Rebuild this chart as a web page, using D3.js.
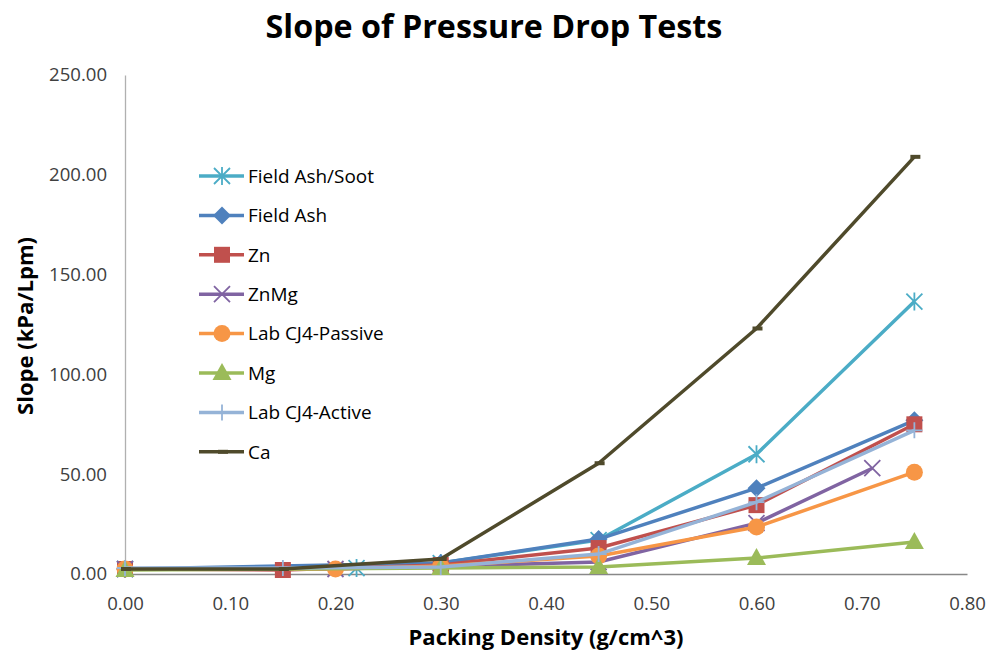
<!DOCTYPE html>
<html><head><meta charset="utf-8">
<script src="https://cdn.jsdelivr.net/npm/d3@7"></script>
<style>body{margin:0;background:#fff}svg{display:block}</style>
</head><body>
<svg id="c" width="989" height="654"></svg>
<script>
const seriesNames = ["Field Ash/Soot","Field Ash","Zn","ZnMg","Lab CJ4-Passive","Mg","Lab CJ4-Active","Ca"];
const seriesColors = ["#4BACC6","#4F81BD","#C0504D","#8064A2","#F79646","#9BBB59","#95B3D7","#4F4A2B"];
const seriesMarkers = ["asterisk","diamond","square","x","circle","triangle","plus","dash"];
const fieldAshSootX = [0, 0.22, 0.30, 0.45, 0.60, 0.75];
const fieldAshSootY = [2.5, 3, 5.5, 17, 60, 136.5];
const fieldAshX = [0, 0.30, 0.45, 0.60, 0.75];
const fieldAshY = [2.5, 5.5, 17.5, 43, 77];
const znX = [0, 0.15, 0.30, 0.45, 0.60, 0.75];
const znY = [2.5, 2, 4.5, 13, 34.5, 75];
const znMgX = [0, 0.20, 0.45, 0.60, 0.71];
const znMgY = [2.5, 2.5, 6, 25.5, 53];
const passiveX = [0, 0.20, 0.30, 0.45, 0.60, 0.75];
const passiveY = [2.5, 2.5, 4, 9, 23.5, 51];
const mgX = [0, 0.30, 0.45, 0.60, 0.75];
const mgY = [2, 3, 3.5, 8, 16];
const activeX = [0, 0.15, 0.30, 0.45, 0.60, 0.75];
const activeY = [3, 3, 3.5, 10, 36, 72];
const caX = [0, 0.15, 0.30, 0.45, 0.60, 0.75];
const caY = [2.5, 2.5, 7.5, 55.5, 123, 209];
const xTicks = [0,0.1,0.2,0.3,0.4,0.5,0.6,0.7,0.8];
const yTicks = [0,50,100,150,200,250];

const seriesX = [fieldAshSootX, fieldAshX, znX, znMgX, passiveX, mgX, activeX, caX];
const seriesY = [fieldAshSootY, fieldAshY, znY, znMgY, passiveY, mgY, activeY, caY];

const svg = d3.select("#c");
const F = "'Open Sans', sans-serif";
const L = 125, R = 967, T = 75, B = 574;
const x = d3.scaleLinear().domain([0,0.8]).range([L,R]);
const y = d3.scaleLinear().domain([0,250]).range([B,T]);

// font-size fitting helper: size such that the given text spans the target width
function fitSize(text, weight, target){
  const t = svg.append("text").attr("font-family",F).attr("font-weight",weight).attr("font-size",100).text(text);
  const w = t.node().getComputedTextLength();
  t.remove();
  return 100*target/w;
}
const tickSize = fitSize("250.00","normal",58);
const legSize = fitSize("Field Ash/Soot","normal",126);
const titleSize = fitSize("Slope of Pressure Drop Tests","bold",457);
const xtSize = fitSize("Packing Density (g/cm^3)","bold",275);
const ytSize = fitSize("Slope (kPa/Lpm)","bold",178);

// axes
const xa = svg.append("g").attr("transform",`translate(0,${B})`)
  .call(d3.axisBottom(x).tickValues(xTicks).tickFormat(d3.format(".2f")).tickSize(0).tickPadding(23));
const ya = svg.append("g").attr("transform",`translate(${L},0)`)
  .call(d3.axisLeft(y).tickValues(yTicks).tickFormat(d3.format(".2f")).tickSize(0).tickPadding(18));
[xa,ya].forEach(a=>{
  a.select(".domain").attr("stroke","#b0b0b0").attr("stroke-width",1.3);
  a.selectAll("text").attr("font-family",F).attr("font-size",tickSize).attr("fill","#404040");
});
xa.select(".domain").attr("stroke","#888");

function marker(g, type, cx, cy, color){
  const s = 8;
  if(type==="asterisk"){
    g.append("path").attr("d",`M${cx-s},${cy-s}L${cx+s},${cy+s}M${cx-s},${cy+s}L${cx+s},${cy-s}M${cx},${cy-s-1}L${cx},${cy+s+1}`)
      .attr("stroke",color).attr("stroke-width",1.8).attr("fill","none");
  } else if(type==="x"){
    g.append("path").attr("d",`M${cx-s},${cy-s}L${cx+s},${cy+s}M${cx-s},${cy+s}L${cx+s},${cy-s}`)
      .attr("stroke",color).attr("stroke-width",1.8).attr("fill","none");
  } else if(type==="plus"){
    g.append("path").attr("d",`M${cx-s},${cy}L${cx+s},${cy}M${cx},${cy-s}L${cx},${cy+s}`)
      .attr("stroke",color).attr("stroke-width",1.8).attr("fill","none");
  } else if(type==="dash"){
    g.append("path").attr("d",`M${cx-4},${cy}L${cx+6},${cy}`)
      .attr("stroke",color).attr("stroke-width",4).attr("fill","none");
  } else if(type==="square"){
    g.append("rect").attr("x",cx-8).attr("y",cy-8).attr("width",16).attr("height",16).attr("fill",color);
  } else if(type==="circle"){
    g.append("circle").attr("cx",cx).attr("cy",cy).attr("r",8.5).attr("fill",color);
  } else if(type==="diamond"){
    g.append("path").attr("d",`M${cx},${cy-9}L${cx+9},${cy}L${cx},${cy+9}L${cx-9},${cy}Z`).attr("fill",color);
  } else if(type==="triangle"){
    g.append("path").attr("d",`M${cx},${cy-10}L${cx+9.5},${cy+7}L${cx-9.5},${cy+7}Z`).attr("fill",color);
  }
}

const line = d3.line().x(d=>x(d[0])).y(d=>y(d[1]));
seriesNames.forEach((n,i)=>{
  const pts = seriesX[i].map((v,j)=>[v, seriesY[i][j]]);
  const g = svg.append("g");
  g.append("path").attr("d",line(pts)).attr("fill","none").attr("stroke",seriesColors[i])
    .attr("stroke-width",3.5).attr("stroke-linejoin","round");
  pts.forEach(p=>marker(g, seriesMarkers[i], x(p[0]), y(p[1]), seriesColors[i]));
});

// legend
const lg = svg.append("g");
seriesNames.forEach((n,i)=>{
  const cy = 176 + i*39.4;
  lg.append("line").attr("x1",199).attr("x2",244).attr("y1",cy).attr("y2",cy)
    .attr("stroke",seriesColors[i]).attr("stroke-width",3.5);
  marker(lg, seriesMarkers[i], 222, cy, seriesColors[i]);
  lg.append("text").attr("x",248).attr("y",cy).attr("dy","0.36em").attr("font-family",F)
    .attr("font-size",legSize).attr("fill","#000").text(n);
});

// titles
svg.append("text").attr("x",494).attr("y",38).attr("text-anchor","middle").attr("font-family",F)
  .attr("font-weight","bold").attr("font-size",titleSize).attr("fill","#000").text("Slope of Pressure Drop Tests");
svg.append("text").attr("x",546).attr("y",645).attr("text-anchor","middle").attr("font-family",F)
  .attr("font-weight","bold").attr("font-size",xtSize).attr("fill","#000").text("Packing Density (g/cm^3)");
svg.append("text").attr("transform","translate(33,326) rotate(-90)").attr("text-anchor","middle").attr("font-family",F)
  .attr("font-weight","bold").attr("font-size",ytSize).attr("fill","#000").text("Slope (kPa/Lpm)");
</script>
</body></html>
